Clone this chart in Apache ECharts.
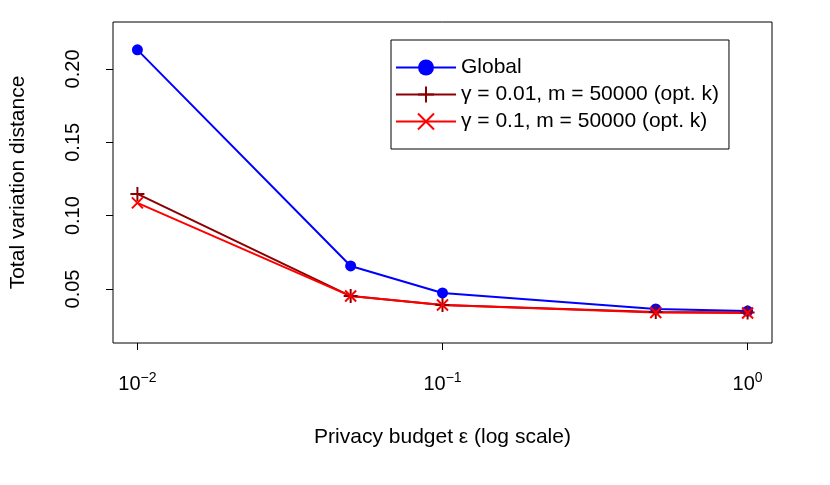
<!DOCTYPE html>
<html><head><meta charset="utf-8">
<script src="https://cdn.jsdelivr.net/npm/echarts@6/dist/echarts.min.js"></script>
<style>html,body{margin:0;padding:0;background:#fff}#c{width:830px;height:485px}</style>
</head><body><div id="c"></div>
<script>
const epsilons = [0.01, 0.05, 0.1, 0.5, 1];
const globalVals = [0.213, 0.0657, 0.0473, 0.0364, 0.0350];
const g001Vals = [0.1148, 0.0452, 0.0391, 0.0343, 0.0340];
const g01Vals = [0.1087, 0.0452, 0.0391, 0.0340, 0.0337];
const xTickExps = [-2, -1, 0];
const yTicks = [0.05, 0.10, 0.15, 0.20];
const names = ['Global', 'γ = 0.01, m = 50000 (opt. k)', 'γ = 0.1, m = 50000 (opt. k)'];

const F = 'Liberation Sans, Arial, sans-serif';
const pts = v => epsilons.map((e, i) => [Math.log10(e), v[i]]);
const chart = echarts.init(document.getElementById('c'));
const mk = (name, vals, color, symbol, size) => ({
  name, type: 'line', data: pts(vals), symbol, symbolSize: size,
  lineStyle: {color, width: 2}, itemStyle: {color, borderColor: color, borderWidth: symbol === 'circle' ? 0 : 2},
  animation: false
});
chart.setOption({
  animation: false,
  grid: {left: 113, right: 58, top: 22, bottom: 142, show: true, borderColor: '#000', borderWidth: 1},
  xAxis: {
    type: 'value', min: -2.08, max: 0.08,
    name: 'Privacy budget ε (log scale)', nameLocation: 'middle', nameGap: 84,
    nameTextStyle: {fontFamily: F, fontSize: 21, color: '#000'},
    axisLine: {show: false, onZero: false}, splitLine: {show: false},
    axisTick: {show: true, inside: false, length: 7, customValues: xTickExps, lineStyle: {color: '#000'}},
    axisLabel: {customValues: xTickExps, margin: 28, color: '#000', fontFamily: F,
      formatter: v => '{b|10}{s|' + (v === 0 ? '0' : '−' + Math.abs(v)) + '}',
      rich: {b: {fontSize: 20, fontFamily: F, color: '#000'}, s: {fontSize: 14, fontFamily: F, color: '#000', verticalAlign: 'top', padding: [0, 0, 12, 0]}}}
  },
  yAxis: {
    type: 'value', min: 0.0132, max: 0.232,
    name: 'Total variation distance', nameLocation: 'middle', nameGap: 84,
    nameTextStyle: {fontFamily: F, fontSize: 21, color: '#000'},
    axisLine: {show: false, onZero: false}, splitLine: {show: false},
    axisTick: {show: true, length: 7, customValues: yTicks, lineStyle: {color: '#000'}},
    axisLabel: {customValues: yTicks, rotate: 90, margin: 30, color: '#000', fontFamily: F, fontSize: 20,
      formatter: v => v.toFixed(2)}
  },
  legend: {
    orient: 'vertical', left: 391, top: 40, itemGap: 6,
    padding: [17, 10, 17, 4], borderColor: '#000', borderWidth: 1,
    itemWidth: 60, itemHeight: 20,
    textStyle: {fontFamily: F, fontSize: 21, color: '#000'},
    data: names
  },
  series: [
    mk(names[0], globalVals, '#0000ff', 'circle', 11),
    mk(names[1], g001Vals, '#8b0000', 'path://M5,0L5,10M0,5L10,5', 14),
    mk(names[2], g01Vals, '#ff0000', 'path://M0,0L10,10M10,0L0,10', 11)
  ]
});
</script></body></html>
